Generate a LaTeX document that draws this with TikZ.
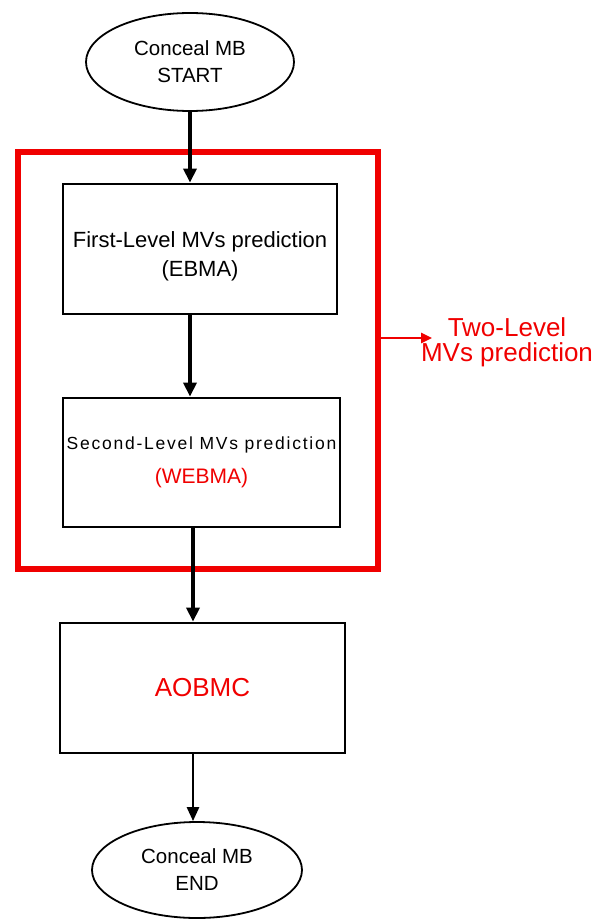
\documentclass[tikz,border=0pt]{standalone}
\usepackage{fontspec}
\setmainfont{Liberation Sans}
\usetikzlibrary{shapes.geometric,arrows.meta}
\definecolor{flowred}{RGB}{240,0,0}
\tikzset{
  terminal/.style={draw,line width=1.8pt,ellipse,inner sep=0pt,align=center},
  procbox/.style={draw,line width=2.8pt,rectangle,inner sep=0pt,align=center},
  flow/.style={line width=4.5pt,-{Triangle[length=14pt,width=13pt]}},
  thinflow/.style={line width=2.6pt,-{Triangle[length=14pt,width=12pt]}},
  groupframe/.style={draw=flowred,line width=6pt,rectangle,inner sep=0pt},
  redflow/.style={draw=flowred,line width=2.6pt,-{Triangle[length=11pt,width=10pt]}},
}
\begin{document}
\begin{tikzpicture}[x=1pt,y=-1pt]
  \useasboundingbox (0,0) rectangle (596,920);

  % terminals
  \node[terminal,minimum width=208pt,minimum height=98pt,font=\fontsize{20.5}{27}\selectfont]
    (start) at (190,62) {Conceal MB\\START};
  \node[terminal,minimum width=210pt,minimum height=96pt,font=\fontsize{20.5}{27}\selectfont]
    (end) at (197,870) {Conceal MB\\END};

  % processing steps
  \node[procbox,minimum width=274pt,minimum height=130pt] (first) at (200,249) {};
  \node[font=\fontsize{22}{29}\selectfont,align=center] (firsttext) at (200,256)
    {First-Level MVs prediction\\(EBMA)};
  \node[procbox,minimum width=277pt,minimum height=129pt] (second) at (201.5,462.5) {};
  \node[align=center] (secondtext) at (201.5,462)
    {{\fontsize{17.5}{36}\selectfont\addfontfeature{LetterSpace=10}Second-Level MVs prediction}\\[14pt]
     {\fontsize{21}{22}\selectfont\color{flowred}(WEBMA)}};
  \node[procbox,minimum width=285pt,minimum height=130pt,font=\fontsize{26}{30}\selectfont,text=flowred]
    (aobmc) at (202.5,688) {AOBMC};

  % two-level group frame and its label
  \node[groupframe,minimum width=360pt,minimum height=417pt] (group) at (198,360.5) {};
  \node[font=\fontsize{26}{25}\selectfont,text=flowred,align=center]
    (twolevel) at (507,342) {Two-Level\\MVs prediction};
  \coordinate (tip) at (432,338);
  \draw[redflow] (group.east |- tip) -- (tip);

  % connectors
  \draw[flow] (start) -- (start |- first.north);
  \draw[flow] (first.south -| start) -- (second.north -| start);
  \draw[flow] ([xshift=3pt]second.south -| start) -- ([xshift=3pt]aobmc.north -| start);
  \draw[thinflow] ([xshift=3pt]aobmc.south -| start) -- ([xshift=3pt]start |- end.north);
\end{tikzpicture}
\end{document}
